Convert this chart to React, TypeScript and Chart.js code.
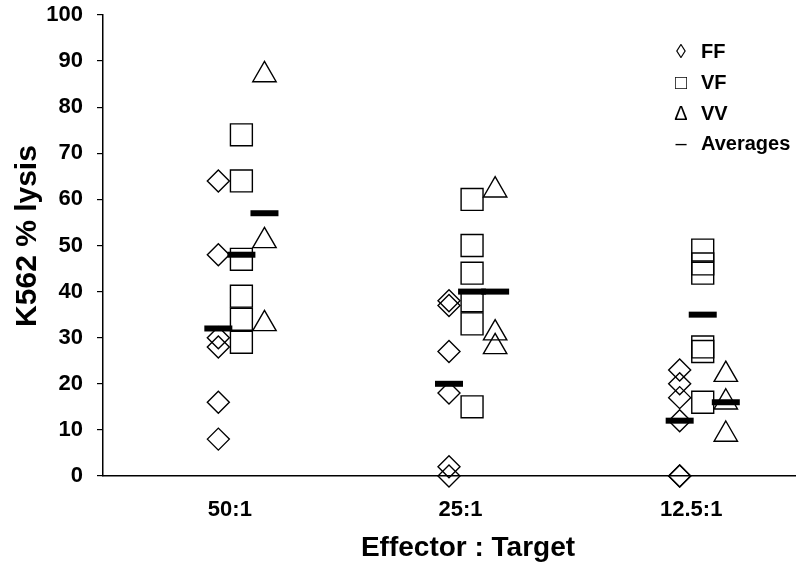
import React, { useEffect, useRef } from 'react';
import { Chart, registerables } from 'chart.js';

Chart.register(...registerables);

const categories = ['50:1', '25:1', '12.5:1'];
const seriesNames = ['FF', 'VF', 'VV'];
const ffValues = [
  [64, 48, 30, 28, 16, 8],
  [38, 37, 27, 18, 2, 0],
  [23, 20, 17, 12, 0, 0],
];
const vfValues = [
  [74, 64, 47, 39, 34, 29],
  [60, 50, 44, 38, 33, 15],
  [49, 46, 44, 28, 27, 16],
];
const vvValues = [
  [87, 51, 33],
  [62, 31, 28],
  [22, 16, 9],
];
const ffAverages = [32, 20, 12];
const vfAverages = [48, 40, 35];
const vvAverages = [57, 40, 16];
const yTicks = [0, 10, 20, 30, 40, 50, 60, 70, 80, 90, 100];
const xTitle = 'Effector : Target';
const yTitle = 'K562 % lysis';
const legendLabels = ['FF', 'VF', 'VV', 'Averages'];
const legendSymbols = ['\u25CA', '\u25A1', '\u0394', '\u2013'];

const FONT = '"Liberation Sans", Arial, Helvetica, sans-serif';

function toPoints(groups: number[][], offset: number) {
  const pts: { x: number; y: number }[] = [];
  groups.forEach((vals, ci) => {
    vals.forEach((v) => pts.push({ x: ci + 1 + offset, y: v }));
  });
  return pts;
}

const overlayPlugin = {
  id: 'overlayText',
  afterDraw(chart: any) {
    const ctx = chart.ctx as CanvasRenderingContext2D;
    ctx.save();
    ctx.fillStyle = '#000';
    ctx.textBaseline = 'middle';
    // x title
    ctx.font = `bold 28px ${FONT}`;
    ctx.textAlign = 'center';
    ctx.fillText(xTitle, 468, 548);
    // y title
    ctx.save();
    ctx.translate(28, 236);
    ctx.rotate(-Math.PI / 2);
    ctx.font = `bold 30px ${FONT}`;
    ctx.fillText(yTitle, 0, 0);
    ctx.restore();
    // legend
    const rows = [52, 83, 114, 144];
    legendLabels.forEach((lab, i) => {
      ctx.font = `20px ${FONT}, "DejaVu Sans"`;
      ctx.textAlign = 'center';
      ctx.fillText(legendSymbols[i], 681, rows[i]);
      ctx.font = `bold 20px ${FONT}`;
      ctx.textAlign = 'left';
      ctx.fillText(lab, 701, rows[i]);
    });
    ctx.restore();
  },
};

export default function App() {
  const ref = useRef<HTMLCanvasElement | null>(null);
  useEffect(() => {
    document.body.style.margin = '0';
    const canvas = ref.current!;
    const markerBase = {
      type: 'scatter' as const,
      borderColor: '#000',
      backgroundColor: 'rgba(0,0,0,0)',
      pointBorderWidth: 1.4,
      clip: false,
      order: 1,
    };
    const avgPoints = [
      ...ffAverages.map((v, i) => ({ x: i + 1, y: v })),
      ...vfAverages.map((v, i) => ({ x: i + 1.1, y: v })),
      ...vvAverages.map((v, i) => ({ x: i + 1.2, y: v })),
    ];
    const chart = new Chart(canvas, {
      type: 'scatter',
      data: {
        datasets: [
          {
            label: 'Averages',
            type: 'scatter',
            data: avgPoints,
            pointStyle: 'line',
            pointRadius: 14,
            pointBorderWidth: 6,
            borderColor: '#000',
            backgroundColor: '#000',
            clip: false,
            order: 0,
          } as any,
          { ...markerBase, label: seriesNames[0], data: toPoints(ffValues, 0), pointStyle: 'rectRot', pointRadius: 11 },
          { ...markerBase, label: seriesNames[1], data: toPoints(vfValues, 0.1), pointStyle: 'rect', pointRadius: 15.5 },
          { ...markerBase, label: seriesNames[2], data: toPoints(vvValues, 0.2), pointStyle: 'triangle', pointRadius: 13.5 },
        ],
      },
      options: {
        responsive: false,
        animation: false,
        layout: { autoPadding: false, padding: { top: 15, right: 1, left: 0, bottom: 0 } },
        plugins: { legend: { display: false }, tooltip: { enabled: false } },
        scales: {
          x: {
            type: 'linear',
            min: 0.5,
            max: 3.5,
            grid: { display: false },
            border: { display: true, color: '#000', width: 1.5 },
            afterBuildTicks: (scale: any) => {
              scale.ticks = categories.map((_, i) => ({ value: i + 1.05 }));
            },
            afterFit: (scale: any) => {
              scale.height = 87;
            },
            ticks: {
              autoSkip: false,
              maxRotation: 0,
              padding: 13,
              color: '#000',
              font: { family: FONT, size: 22, weight: 'bold' },
              callback: (v: any) => {
                const idx = Math.round(Number(v) - 1.05);
                return categories[idx] ?? '';
              },
            },
          },
          y: {
            type: 'linear',
            min: 0,
            max: 100,
            afterBuildTicks: (scale: any) => {
              scale.ticks = yTicks.map((v) => ({ value: v }));
            },
            afterFit: (scale: any) => {
              scale.width = 103;
            },
            grid: {
              drawOnChartArea: false,
              drawTicks: true,
              tickLength: 6,
              color: '#000',
              lineWidth: 1.2,
            },
            border: { display: true, color: '#000', width: 1.5 },
            ticks: {
              padding: 14,
              color: '#000',
              font: { family: FONT, size: 22, weight: 'bold', lineHeight: 0.01 },
            },
          },
        },
      } as any,
      plugins: [overlayPlugin],
    });
    return () => chart.destroy();
  }, []);
  return (
    <div style={{ width: 796, height: 563 }}>
      <canvas ref={ref} width={796} height={563} style={{ display: 'block' }} />
    </div>
  );
}
